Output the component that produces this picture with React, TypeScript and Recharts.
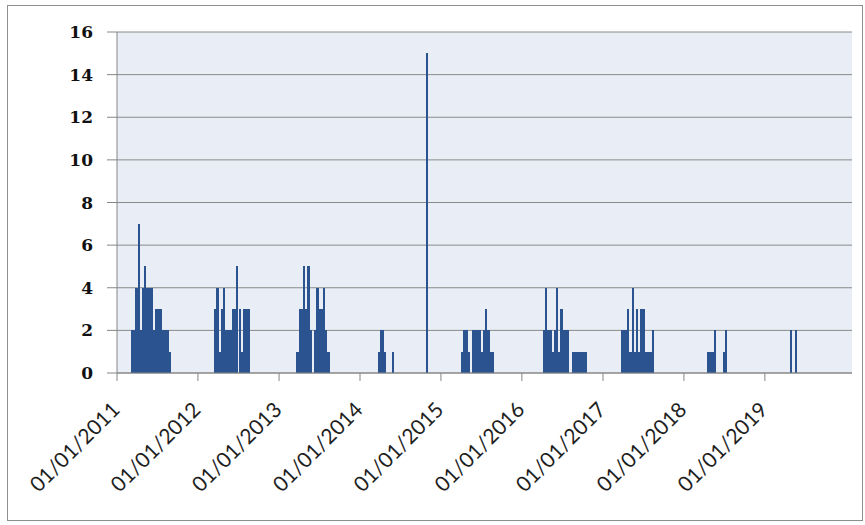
import { BarChart, Bar, XAxis, YAxis, CartesianGrid } from 'recharts'

// counts read every 10 days from the first date of each season
const seasonStarts = [
  '2011-03-10',
  '2012-03-19',
  '2013-03-25',
  '2014-03-26',
  '2015-04-06',
  '2016-04-09',
  '2017-03-26',
  '2018-04-22',
]
const counts2011 = [2, 2, 4, 7, 2, 4, 5, 4, 4, 4, 2, 3, 3, 3, 2, 2, 2, 1]
const counts2012 = [3, 4, 1, 3, 4, 2, 2, 2, 3, 3, 5, 3, 1, 3, 3, 3]
const counts2013 = [1, 3, 3, 5, 3, 5, 2, 0, 2, 4, 3, 3, 4, 2, 1]
const counts2014 = [1, 2, 2, 1]
const counts2015 = [1, 2, 2, 1, 0, 2, 2, 2, 2, 1, 2, 3, 2, 1, 1]
const counts2016 = [2, 4, 2, 2, 1, 2, 4, 1, 3, 2, 2, 2, 0, 1, 1, 1, 1, 1, 1, 1]
const counts2017 = [2, 2, 2, 3, 1, 4, 1, 3, 1, 3, 3, 1, 1, 1, 2]
const counts2018 = [1, 1, 1, 2, 0, 0, 0, 1, 2]
const seasonCounts = [counts2011, counts2012, counts2013, counts2014, counts2015, counts2016, counts2017, counts2018]

// isolated days
const singleDates = ['2014-05-29', '2014-11-01', '2019-04-29', '2019-05-22']
const singleCounts = [1, 15, 2, 2]

const tickDates = [
  '2011-01-01', '2012-01-01', '2013-01-01', '2014-01-01', '2015-01-01',
  '2016-01-01', '2017-01-01', '2018-01-01', '2019-01-01',
]
const tickLabels = [
  '01/01/2011', '01/01/2012', '01/01/2013', '01/01/2014', '01/01/2015',
  '01/01/2016', '01/01/2017', '01/01/2018', '01/01/2019',
]
const yTicks = [0, 2, 4, 6, 8, 10, 12, 14, 16]

const ORIGIN = Date.UTC(2011, 0, 1)
const dayOf = (iso: string) => {
  const [y, m, d] = iso.split('-').map(Number)
  return Math.round((Date.UTC(y, m - 1, d) - ORIGIN) / 86400000)
}

const rows: { day: number; count: number }[] = []
seasonStarts.forEach((s, i) => {
  const d0 = dayOf(s)
  seasonCounts[i].forEach((c, k) => {
    if (c > 0) rows.push({ day: d0 + k * 10, count: c })
  })
})
singleDates.forEach((s, i) => rows.push({ day: dayOf(s), count: singleCounts[i] }))
rows.sort((a, b) => a.day - b.day)

const xTicks = tickDates.map(dayOf)
const X_MAX = 3315

function DateTick({ x, y, payload }: any) {
  const label = tickLabels[xTicks.indexOf(payload.value)]
  const px = x + 4
  const py = y + 28
  return (
    <text
      x={px}
      y={py}
      transform={`rotate(-45, ${px}, ${py})`}
      textAnchor="end"
      fontFamily="Lato"
      fontSize={21}
      fill="#1e1e1e"
    >
      {label}
    </text>
  )
}

export default function App() {
  return (
    <div
      style={{
        position: 'absolute',
        left: 7,
        top: 5,
        width: 854,
        height: 514,
        border: '1px solid #8e8e8e',
        background: '#fff',
      }}
    >
      <BarChart
        width={854}
        height={514}
        data={rows}
        margin={{ top: 26, right: 10, bottom: 0, left: 0 }}
      >
        <CartesianGrid vertical={false} fill="#e9edf5" stroke="#8a8a8a" />
        <XAxis
          dataKey="day"
          type="number"
          domain={[0, X_MAX]}
          ticks={xTicks}
          interval={0}
          height={147}
          tickSize={8}
          tick={<DateTick />}
          axisLine={{ stroke: '#868686' }}
          tickLine={{ stroke: '#868686' }}
        />
        <YAxis
          width={109}
          domain={[0, 16]}
          ticks={yTicks}
          interval={0}
          tickSize={10}
          tickMargin={14}
          axisLine={{ stroke: '#868686' }}
          tickLine={{ stroke: '#868686' }}
          tick={{ fontFamily: 'DejaVu Serif', fontSize: 17, fontWeight: 'bold', fill: '#111' }}
        />
        <Bar
          dataKey="count"
          fill="#2b5390"
          barSize={2.2}
          shapeRendering="crispEdges"
          isAnimationActive={false}
        />
      </BarChart>
    </div>
  )
}
